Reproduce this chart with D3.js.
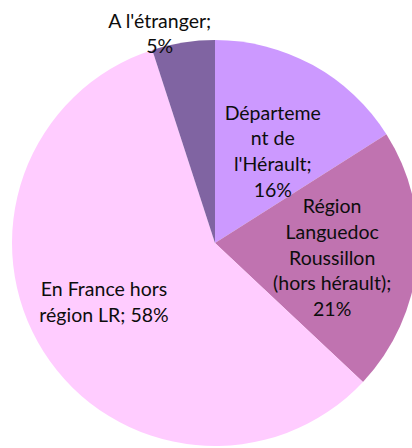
<!DOCTYPE html>
<html>
<head>
<meta charset="utf-8">
<script src="https://cdn.jsdelivr.net/npm/d3@7"></script>
<style>
  html, body { margin: 0; padding: 0; background: #fff; }
  svg text { font-family: Lato, "Liberation Sans", sans-serif; fill: #0d0d0d; }
</style>
</head>
<body>
<script>
  // data, clockwise from 12 o'clock
  var categories = ["Département de l'Hérault", "Région Languedoc Roussillon (hors hérault)", "En France hors région LR", "A l'étranger"];
  var values = [16, 21, 58, 5];
  var labelLines = [
    ["Départeme", "nt de", "l'Hérault;"],
    ["Région", "Languedoc", "Roussillon", "(hors hérault);"],
    ["En France hors", "région LR;"],
    ["A l'étranger;"]
  ];
  var pctInline = [false, false, true, false];

  var colours = ["#cc99ff", "#c073b0", "#ffccff", "#8064a2"];

  var width = 412, height = 448;
  var cx = 215, cy = 243, radius = 203;
  var fontSize = 19.5, lineH = 25.8;

  var svg = d3.select("body").append("svg")
    .attr("width", width)
    .attr("height", height);

  var pie = d3.pie().sort(null).value(function(d){ return d.v; });
  var arc = d3.arc().innerRadius(0).outerRadius(radius);
  var labelArcIn = d3.arc().innerRadius(radius*0.56).outerRadius(radius*0.56);
  var labelArcOut = d3.arc().innerRadius(radius+10).outerRadius(radius+10);

  var data = values.map(function(v, i){ return {v: v, name: categories[i], i: i}; });
  var slices = pie(data);

  var g = svg.append("g").attr("transform", "translate(" + cx + "," + cy + ")");

  g.selectAll("path").data(slices).enter()
    .append("path")
    .attr("d", arc)
    .attr("fill", function(d){ return colours[d.data.i]; });

  // small nudges so labels sit where the original placed them
  var nudge = [[3, 8], [4, 4], [-15, -2], [-22, 1]];

  slices.forEach(function(d){
    var i = d.data.i;
    var lines = labelLines[i].slice();
    var pct = d.data.v + "%";
    if (pctInline[i]) lines[lines.length-1] += " " + pct;
    else lines.push(pct);
    var c = (i === 3 ? labelArcOut : labelArcIn).centroid(d);
    var x = c[0] + nudge[i][0], y = c[1] + nudge[i][1];
    var t = g.append("text")
      .attr("text-anchor", "middle")
      .attr("font-size", fontSize);
    lines.forEach(function(l, k){
      t.append("tspan")
        .attr("x", x)
        .attr("y", y + (k - (lines.length-1)/2)*lineH + fontSize*0.35)
        .text(l);
    });
  });
</script>
</body>
</html>
